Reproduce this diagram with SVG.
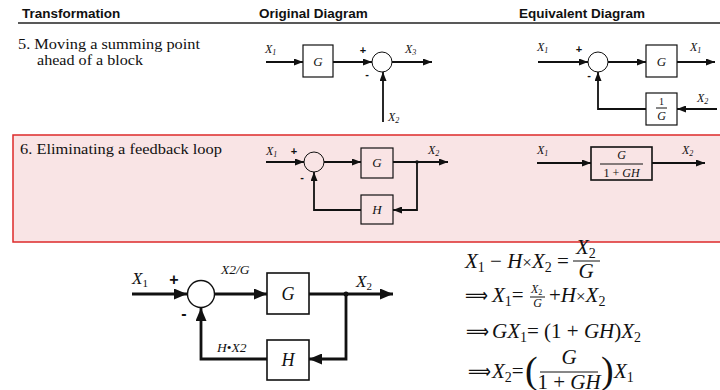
<svg xmlns="http://www.w3.org/2000/svg" width="720" height="390" viewBox="0 0 720 390">
<style>
.hd{font-family:"Liberation Sans",Arial,sans-serif;font-weight:bold;font-size:13.5px;fill:#111}
.tx{font-family:"Liberation Serif","Times New Roman",serif;font-size:15px;fill:#111}
.v{font-family:"Liberation Serif","Times New Roman",serif;font-style:italic;font-size:12px;fill:#111}
.vb{font-family:"Liberation Serif","Times New Roman",serif;font-style:italic;font-size:18px;fill:#111}
.sg{font-family:"Liberation Sans",Arial,sans-serif;font-weight:bold;font-size:11px;fill:#111}
.sgb{font-family:"Liberation Sans",Arial,sans-serif;font-weight:bold;font-size:16px;fill:#111}
.m{font-family:"Liberation Serif","Times New Roman",serif;font-style:italic;font-size:21px;fill:#111}
.up{font-style:normal}
.sb{font-style:normal;font-size:14px}
.sm{font-size:8px}
.ar{font-family:"DejaVu Sans",sans-serif;font-size:20px;fill:#111}
.box{fill:none;stroke:#111;stroke-width:1.2}
.boxb{fill:none;stroke:#111;stroke-width:1.6}
.ln{fill:none;stroke:#111;stroke-width:1.8}
.lnb{fill:none;stroke:#111;stroke-width:2.8}
.c{fill:none;stroke:#111;stroke-width:1}
.cb{fill:none;stroke:#111;stroke-width:1.4}
.fr{stroke:#111;stroke-width:1}
</style>
<defs>
<marker id="a" viewBox="0 0 9 7" refX="9" refY="3.5" markerWidth="9" markerHeight="7" markerUnits="userSpaceOnUse" orient="auto"><path d="M0,0 L9,3.5 L0,7 z" fill="#111"/></marker>
<marker id="b" viewBox="0 0 13 11" refX="13" refY="5.5" markerWidth="13" markerHeight="11" markerUnits="userSpaceOnUse" orient="auto"><path d="M0,0 L13,5.5 L0,11 z" fill="#111"/></marker>
</defs>
<rect width="720" height="390" fill="#fff"/>

<!-- header -->
<g id="header">
<text class="hd" x="22" y="18">Transformation</text>
<text class="hd" x="259" y="18">Original Diagram</text>
<text class="hd" x="519" y="18">Equivalent Diagram</text>
<line x1="18" y1="23" x2="720" y2="23" stroke="#222" stroke-width="1.5"/>
</g>

<!-- row 5 -->
<g id="row5-text">
<text class="tx" x="18" y="49" textLength="182" lengthAdjust="spacingAndGlyphs">5.  Moving a summing point</text>
<text class="tx" x="37" y="65" textLength="106" lengthAdjust="spacingAndGlyphs">ahead of a block</text>
</g>

<g id="r5o-G"><rect class="box" x="303" y="45" width="30" height="32"/><text class="v" x="318" y="66" text-anchor="middle" style="font-size:13px">G</text></g>
<g id="r5o-sum"><circle class="c" cx="382" cy="62" r="10"/><text class="sg" x="363" y="54" text-anchor="middle">+</text><text class="sg" x="367" y="78" text-anchor="middle">-</text></g>
<g id="r5o-labels">
<text class="v" x="265" y="53">X<tspan class="sm" dy="2">1</tspan></text>
<text class="v" x="405" y="53">X<tspan class="sm" dy="2">3</tspan></text>
<text class="v" x="388" y="121">X<tspan class="sm" dy="2">2</tspan></text>
</g>

<g id="r5e-sum"><circle class="c" cx="598" cy="62" r="10"/><text class="sg" x="579" y="53" text-anchor="middle">+</text><text class="sg" x="589" y="79" text-anchor="middle">-</text></g>
<g id="r5e-G"><rect class="box" x="646" y="45" width="31" height="32"/><text class="v" x="661.5" y="66" text-anchor="middle" style="font-size:13px">G</text></g>
<g id="r5e-invG"><rect class="box" x="646" y="93" width="31" height="32"/><text class="v" x="661.5" y="105" text-anchor="middle" style="font-size:10px;font-style:normal">1</text><line class="fr" x1="656" y1="108" x2="667" y2="108"/><text class="v" x="661.5" y="120" text-anchor="middle">G</text></g>
<g id="r5e-labels">
<text class="v" x="537" y="51">X<tspan class="sm" dy="2">1</tspan></text>
<text class="v" x="690" y="51">X<tspan class="sm" dy="2">1</tspan></text>
<text class="v" x="697" y="102">X<tspan class="sm" dy="2">2</tspan></text>
</g>

<!-- row 6 -->
<rect x="13" y="135" width="720" height="107" fill="#f9e4e5" stroke="#dd2a2a" stroke-width="1.5"/>
<g id="row6-text">
<text class="tx" x="20" y="154" textLength="202" lengthAdjust="spacingAndGlyphs">6.  Eliminating a feedback loop</text>
</g>
<g id="r6o-sum"><circle class="c" cx="314" cy="162" r="10"/><text class="sg" x="294" y="155" text-anchor="middle">+</text><text class="sg" x="302" y="181" text-anchor="middle">-</text></g>
<g id="r6o-G"><rect class="box" x="361" y="148" width="32" height="30"/><text class="v" x="377" y="167" text-anchor="middle" style="font-size:13px">G</text></g>
<g id="r6o-H"><rect class="box" x="361" y="195" width="32" height="29"/><text class="v" x="377" y="214" text-anchor="middle" style="font-size:13px">H</text></g>
<g id="r6o-labels">
<text class="v" x="266" y="155">X<tspan class="sm" dy="2">1</tspan></text>
<text class="v" x="428" y="154">X<tspan class="sm" dy="2">2</tspan></text>
</g>
<g id="r6e-block"><rect class="boxb" x="591" y="147" width="61" height="33"/><text class="v" x="621.5" y="159" text-anchor="middle">G</text><line class="fr" x1="600" y1="164" x2="643" y2="164"/><text class="v" x="621.5" y="177" text-anchor="middle"><tspan class="up">1 + </tspan>GH</text></g>
<g id="r6e-labels">
<text class="v" x="537" y="154">X<tspan class="sm" dy="2">1</tspan></text>
<text class="v" x="682" y="154">X<tspan class="sm" dy="2">2</tspan></text>
</g>

<!-- bottom diagram -->
<g id="b-sum"><circle class="cb" cx="201" cy="294" r="13.5"/><text class="sgb" x="174" y="285" text-anchor="middle">+</text><text class="sgb" x="184" y="319" text-anchor="middle">-</text></g>
<g id="b-G"><rect class="boxb" x="267" y="273" width="42" height="41"/><text class="vb" x="288" y="300" text-anchor="middle">G</text></g>
<g id="b-H"><rect class="boxb" x="267" y="340" width="42" height="40"/><text class="vb" x="288" y="366" text-anchor="middle">H</text></g>
<g id="b-labels">
<text class="v" x="132" y="284" style="font-size:17px">X<tspan style="font-size:11px;font-style:normal" dy="3">1</tspan></text>
<text class="v" x="221" y="274" style="font-size:13.5px">X2/G</text>
<text class="v" x="356" y="287" style="font-size:17px">X<tspan style="font-size:11px;font-style:normal" dy="3">2</tspan></text>
<text class="v" x="217" y="352" style="font-size:13.5px">H<tspan class="up">•</tspan>X2</text>
</g>

<!-- connectors -->
<g id="connectors">
<path class="ln" d="M266,62 H303" marker-end="url(#a)"/>
<path class="ln" d="M333,62 H372" marker-end="url(#a)"/>
<path class="ln" d="M392,62 H432" marker-end="url(#a)"/>
<path class="ln" d="M383,122 V72" marker-end="url(#a)"/>

<path class="ln" d="M538,62 H588" marker-end="url(#a)"/>
<path class="ln" d="M608,62 H646" marker-end="url(#a)"/>
<path class="ln" d="M677,62 H715" marker-end="url(#a)"/>
<path class="ln" d="M717,109 H677" marker-end="url(#a)"/>
<path class="ln" d="M646,109 H598 V72" marker-end="url(#a)"/>

<path class="ln" d="M266,162 H304" marker-end="url(#a)"/>
<path class="ln" d="M324,162 H361" marker-end="url(#a)"/>
<path class="ln" d="M393,162 H448" marker-end="url(#a)"/>
<path class="ln" d="M417,162 V210 H393" marker-end="url(#a)"/>
<path class="ln" d="M361,210 H314 V172" marker-end="url(#a)"/>
<circle cx="417" cy="162" r="1.8" fill="#111"/>

<path class="ln" d="M537,163 H591" marker-end="url(#a)"/>
<path class="ln" d="M652,163 H705" marker-end="url(#a)"/>

<path class="lnb" d="M132,294 H187" marker-end="url(#b)"/>
<path class="lnb" d="M215,294 H267" marker-end="url(#b)"/>
<path class="lnb" d="M309,294 H393" marker-end="url(#b)"/>
<path class="lnb" d="M346,294 V359 H309" marker-end="url(#b)"/>
<path class="lnb" d="M267,359 H201 V308" marker-end="url(#b)"/>
<circle cx="346" cy="294" r="2.5" fill="#111"/>
</g>

<!-- equations -->
<g id="equations">
<text class="m" x="465" y="268">X<tspan class="sb" dy="4">1</tspan><tspan class="up" dy="-4"> − </tspan>H<tspan class="up" style="font-size:17px">×</tspan>X<tspan class="sb" dy="4">2</tspan><tspan class="up" dy="-4"> =</tspan></text>
<text class="m" x="576" y="254">X<tspan class="sb" dy="4">2</tspan></text>
<line class="fr" x1="573" y1="261" x2="600" y2="261" stroke-width="1.2"/>
<text class="m" x="586" y="278" text-anchor="middle">G</text>

<text class="ar" x="465" y="302" textLength="23" lengthAdjust="spacingAndGlyphs">⟹</text>
<text class="m" x="492" y="302">X<tspan class="sb" dy="4">1</tspan><tspan class="up" dy="-4">=</tspan></text>
<text class="m" x="531" y="293" style="font-size:12px">X<tspan class="up" style="font-size:8px" dy="2">2</tspan></text>
<line class="fr" x1="530" y1="297" x2="545" y2="297"/>
<text class="m" x="537.5" y="307" style="font-size:12px" text-anchor="middle">G</text>
<text class="m" x="549" y="302"><tspan class="up">+</tspan>H<tspan class="up" style="font-size:17px">×</tspan>X<tspan class="sb" dy="4">2</tspan></text>

<text class="ar" x="466" y="338" textLength="23" lengthAdjust="spacingAndGlyphs">⟹</text>
<text class="m" x="492" y="338">GX<tspan class="sb" dy="4">1</tspan><tspan class="up" dy="-4">= (1 + </tspan>GH<tspan class="up">)</tspan>X<tspan class="sb" dy="4">2</tspan></text>

<text class="ar" x="468" y="378" textLength="23" lengthAdjust="spacingAndGlyphs">⟹</text>
<text class="m" x="492" y="378">X<tspan class="sb" dy="4">2</tspan><tspan class="up" dy="-4">=</tspan></text>
<text class="m up" x="525" y="383" style="font-size:38px">(</text>
<text class="m" x="569" y="364" text-anchor="middle">G</text>
<line class="fr" x1="540" y1="372" x2="598" y2="372" stroke-width="1.2"/>
<text class="m" x="569" y="389" text-anchor="middle"><tspan class="up">1 + </tspan>GH</text>
<text class="m up" x="601" y="383" style="font-size:38px">)</text>
<text class="m" x="614" y="378">X<tspan class="sb" dy="4">1</tspan></text>
</g>
</svg>
